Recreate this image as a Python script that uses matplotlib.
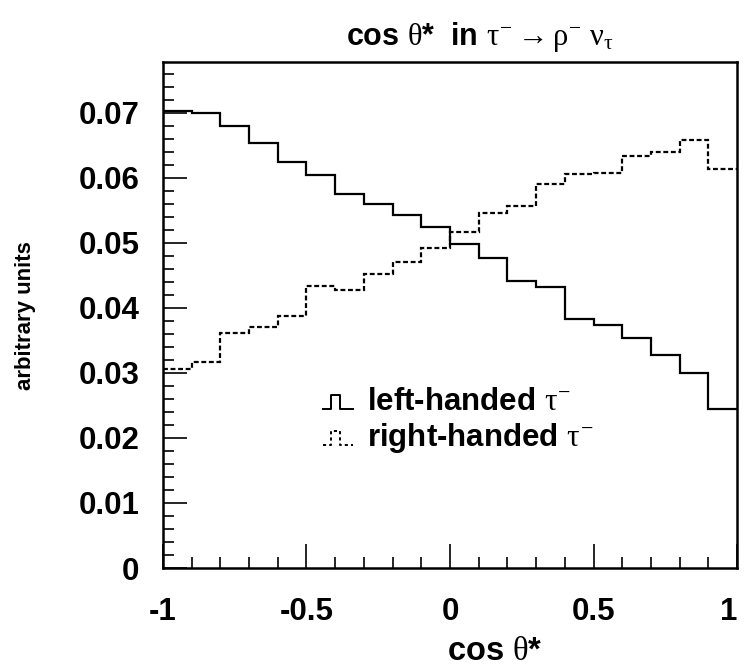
import matplotlib.pyplot as plt
import numpy as np

plt.rcParams['font.family'] = 'Liberation Sans'
# upright, regular-weight serif Greek letters
plt.rcParams['mathtext.fontset'] = 'custom'
plt.rcParams['mathtext.rm'] = 'Liberation Serif'
plt.rcParams['mathtext.it'] = 'Liberation Serif'
plt.rcParams['mathtext.bf'] = 'Liberation Serif'

# 20 bins in cos(theta*) from -1 to 1
edges = np.linspace(-1, 1, 21)
left_handed = [0.0703, 0.0700, 0.0680, 0.0653, 0.0625, 0.0605, 0.0575, 0.0560, 0.0543, 0.0525,
               0.0498, 0.0476, 0.0441, 0.0432, 0.0383, 0.0373, 0.0354, 0.0328, 0.0300, 0.0244]
right_handed = [0.0306, 0.0316, 0.0362, 0.0370, 0.0387, 0.0433, 0.0427, 0.0452, 0.0471, 0.0492,
                0.0516, 0.0546, 0.0556, 0.0590, 0.0606, 0.0608, 0.0634, 0.0639, 0.0658, 0.0614]
legend_labels = [r'left-handed $\tau^{-}$', r'right-handed $\tau^{-}$']

fig = plt.figure(figsize=(7.44, 6.68), dpi=100)
ax = fig.add_axes([0.219, 0.1497, 0.7717, 0.7575])

dash = (0, (2.2, 1.2))
ax.stairs(left_handed, edges, baseline=None, color='black', lw=1.6)
ax.stairs(right_handed, edges, baseline=None, color='black', lw=1.6, linestyle=dash)

ax.set_xlim(-1, 1)
ax.set_ylim(0, 0.0778)
ax.set_xticks([-1, -0.5, 0, 0.5, 1])
ax.set_xticklabels(['-1', '-0.5', '0', '0.5', '1'])
ax.set_xticks(np.arange(-1, 1.001, 0.1), minor=True)
ax.set_yticks([0, 0.01, 0.02, 0.03, 0.04, 0.05, 0.06, 0.07])
ax.set_yticklabels(['0', '0.01', '0.02', '0.03', '0.04', '0.05', '0.06', '0.07'])
ax.set_yticks(np.arange(0, 0.0778, 0.002), minor=True)
ax.tick_params(which='both', direction='in', top=False, right=False, width=1.2)
ax.tick_params(which='major', length=17, labelsize=22.5)
ax.tick_params(which='minor', length=8)
ax.tick_params(axis='y', which='major', pad=17)
ax.tick_params(axis='x', which='major', pad=21)
for lab in ax.get_xticklabels() + ax.get_yticklabels():
    lab.set_fontweight('bold')
ax.get_xticklabels()[-1].set_horizontalalignment('right')
for s in ax.spines.values():
    s.set_linewidth(1.8)

# legend: small pulse glyphs plus labels
def pulse(y0, style):
    xs = [0.279, 0.292, 0.292, 0.308, 0.308, 0.331]
    ys = [y0 - 0.014, y0 - 0.014, y0 + 0.014, y0 + 0.014, y0 - 0.014, y0 - 0.014]
    ax.plot(xs, ys, transform=ax.transAxes, color='black', lw=1.4, linestyle=style,
            clip_on=False)

rows = [0.328, 0.257]
pulse(rows[0], '-')
pulse(rows[1], (0, (1.6, 1.6)))
for y, lab in zip(rows, legend_labels):
    ax.text(0.355, y, lab, transform=ax.transAxes, fontsize=22.5, fontweight='bold',
            va='center', ha='left')

fig.text(0.645, 0.945, r'cos $\theta$*  in $\tau^{-} \rightarrow \rho^{-}\ \nu_{\tau}$',
         fontsize=22, fontweight='bold', ha='center', va='center')
fig.text(0.665, 0.024, r'cos $\theta$*', fontsize=23.5, fontweight='bold',
         ha='center', va='center')
fig.text(0.034, 0.528, 'arbitrary units', fontsize=16, fontweight='bold',
         rotation=90, ha='center', va='center')

fig.savefig('out.png', dpi=100)
